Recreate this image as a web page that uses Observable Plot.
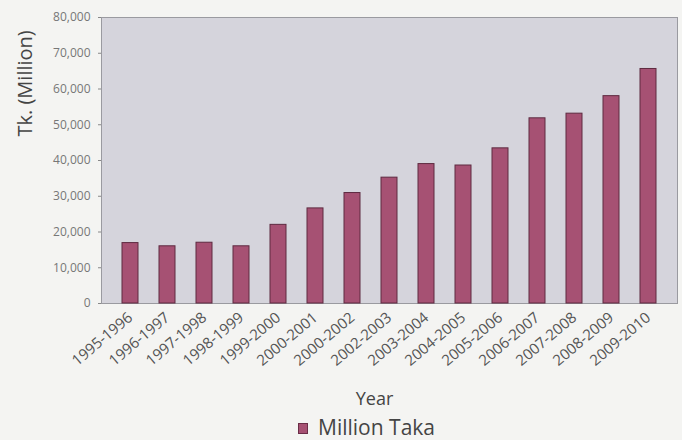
<!DOCTYPE html>
<html>
<head>
<meta charset="utf-8">
<script src="https://cdn.jsdelivr.net/npm/d3@7"></script>
<script src="https://cdn.jsdelivr.net/npm/@observablehq/plot@0.6"></script>
<style>
  body { margin: 0; background: #f4f4f2; font-family: "Open Sans", sans-serif; }
  #chart { width: 682px; height: 415px; }
  .legend { height: 25px; display: flex; align-items: center; padding-left: 298px; font-size: 21px; color: #444; line-height: 25px; }
  .legend .sw { width: 8px; height: 9px; background: #a65173; border: 1px solid #6a2d47; margin-right: 10px; margin-top: 2px; }
</style>
</head>
<body>
<div id="chart"></div>
<div class="legend"><span class="sw"></span><span>Million Taka</span></div>
<script>
const years = ["1995-1996","1996-1997","1997-1998","1998-1999","1999-2000","2000-2001","2000-2002","2002-2003","2003-2004","2004-2005","2005-2006","2006-2007","2007-2008","2008-2009","2009-2010"];
const values = [16900, 16000, 17000, 16000, 22000, 26600, 30900, 35200, 39000, 38600, 43400, 51800, 53100, 58000, 65600];
const yTicks = [0, 10000, 20000, 30000, 40000, 50000, 60000, 70000, 80000];
const seriesName = "Million Taka";
const yTitle = "Tk. (Million)";
const xTitle = "Year";

const data = years.map((y, i) => ({year: y, value: values[i]}));

const plot = Plot.plot({
  width: 682,
  height: 415,
  marginLeft: 101,
  marginRight: 5,
  marginTop: 17,
  marginBottom: 112,
  style: {background: "transparent", fontFamily: "Open Sans, sans-serif", color: "#555"},
  x: {domain: years, padding: 0.56, axis: null},
  y: {domain: [0, 80000], axis: null},
  marks: [
    Plot.frame({fill: "#d5d4dc", stroke: "#9a9aa0"}),
    Plot.barY(data, {x: "year", y: "value", fill: "#a65173", stroke: "#5e2a40", strokeWidth: 1}),
    Plot.axisY(yTicks, {tickFormat: d3.format(","), fontSize: 12, tickSize: 3, tickPadding: 8, stroke: "#888", fill: "#777", label: null}),
    Plot.axisX({tickRotate: -40, fontSize: 15, tickSize: 0, tickPadding: 12, fill: "#555", label: null}),
    Plot.text([yTitle], {frameAnchor: "left", rotate: -90, dx: -76, dy: -24, fontSize: 20, fill: "#444"}),
    Plot.text([xTitle], {frameAnchor: "bottom", dy: 101, dx: -15, fontSize: 18, fill: "#444"})
  ]
});
document.getElementById("chart").appendChild(plot);
</script>
</body>
</html>
